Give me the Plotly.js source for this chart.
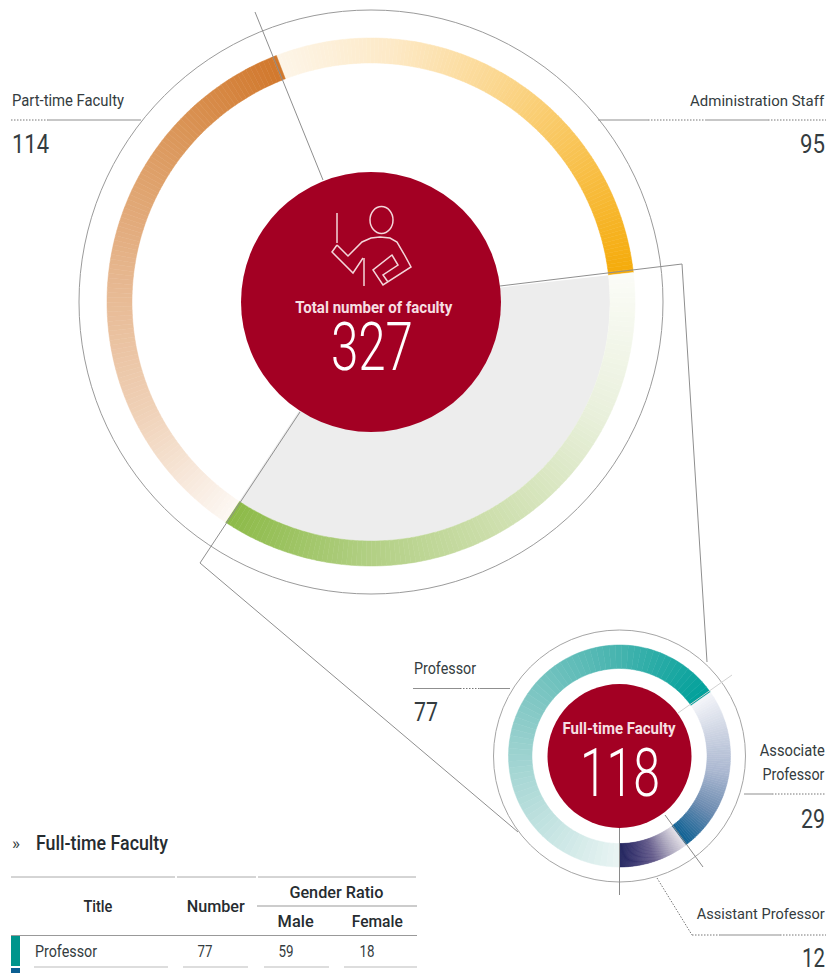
<!DOCTYPE html>
<html>
<head>
<meta charset="utf-8">
<script src="https://cdn.plot.ly/plotly-3.0.1.min.js"></script>
<style>html,body{margin:0;padding:0;background:#fff}#chart{width:831px;height:973px}.pielayer{filter:blur(0.5px)}</style>
</head>
<body>
<div id="chart"></div>
<script>
// ---- data ----
var totalLabel = 'Total number of faculty';
var totalValue = 327;
var mainCategories = ['Administration Staff', 'Full-time Faculty', 'Part-time Faculty'];
var mainValues = [95, 118, 114];
var subLabel = 'Full-time Faculty';
var subTotal = 118;
var subCategories = ['Professor', 'Associate Professor', 'Assistant Professor'];
var subValues = [77, 29, 12];
var tableHeaders = ['Title', 'Number', 'Gender Ratio', 'Male', 'Female'];
var tableRow = ['Professor', 77, 59, 18];

// ---- style ----
var W = 831, H = 973;
var FONT = 'Roboto,"Liberation Sans",sans-serif';
var INK = '#343c40', LINE = '#8f8f8f', RED = '#a30023', PALE = '#f3d6da', DOT = '1.5px,1.5px';
var mainStops = [
  ['#fdf5e8', '#fde9c6', '#fbd68c', '#f8c04a', '#f5ab0a'],
  ['#fbfcf7', '#e9f0dc', '#cfe0b0', '#b1cf83', '#8cba47'],
  ['#fdf8f3', '#efd0b6', '#e6b68e', '#dc9a5f', '#d1772b']
];
var subStops = [
  ['#e9f4f3', '#b8dedc', '#86c9c6', '#4ab5b0', '#00a09a'],
  ['#f4f5f9', '#ccd3e2', '#aab7d0', '#6c8bb0', '#0b5f92'],
  ['#e3dfe6', '#a8a3bb', '#635a8a', '#3a3670', '#1c1f5a']
];
function px(x) { return x / W; }
function py(y) { return 1 - y / H; }
function rgb(h) { return [1, 3, 5].map(function (i) { return parseInt(h.substr(i, 2), 16); }); }
function mix(stops, t) {
  var s = t * (stops.length - 1), i = Math.min(Math.floor(s), stops.length - 2), f = s - i;
  var a = rgb(stops[i]), b = rgb(stops[i + 1]);
  return 'rgb(' + a.map(function (v, k) { return Math.round(v + (b[k] - v) * f); }).join(',') + ')';
}
// Each category is one arc, cut into small equal steps only so its colour can fade along the arc.
function gradientPie(values, names, stops, cx, cy, rOut, rIn, rotation, steps) {
  var vals = [], cols = [], labs = [];
  values.forEach(function (v, c) {
    for (var i = 0; i < steps; i++) {
      vals.push(v / steps); labs.push(names[c] + ' ' + i);
      cols.push(mix(stops[c], (i + 0.5) / steps));
    }
  });
  return {
    type: 'pie', values: vals, labels: labs, sort: false, direction: 'clockwise', rotation: rotation,
    hole: rIn / rOut, textinfo: 'none', hoverinfo: 'skip', showlegend: false,
    marker: { colors: cols, line: { color: cols, width: 0.5 } },
    domain: { x: [px(cx - rOut), px(cx + rOut)], y: [py(cy + rOut), py(cy - rOut)] }
  };
}
var C = { x: 371, y: 302, outer: 292, rOut: 264, rIn: 239, red: 130 };
var S = { x: 619.5, y: 756, outer: 126, rOut: 111, rIn: 87.5, red: 72 };
var mainRot = -21, subRot = 180;

var greySector = {
  type: 'pie', values: mainValues, labels: mainCategories, sort: false, direction: 'clockwise',
  rotation: mainRot, textinfo: 'none', hoverinfo: 'skip', showlegend: false,
  marker: { colors: ['rgba(0,0,0,0)', '#ededed', 'rgba(0,0,0,0)'], line: { width: 0 } },
  domain: { x: [px(C.x - C.rIn), px(C.x + C.rIn)], y: [py(C.y + C.rIn), py(C.y - C.rIn)] }
};
var traces = [
  greySector,
  gradientPie(mainValues, mainCategories, mainStops, C.x, C.y, C.rOut, C.rIn, mainRot, 120),
  gradientPie(subValues, subCategories, subStops, S.x, S.y, S.rOut, S.rIn, subRot, 70)
];

function seg(x0, y0, x1, y1, color, dash, width) {
  return { type: 'line', xref: 'paper', yref: 'paper', layer: 'above', x0: px(x0), y0: py(y0), x1: px(x1), y1: py(y1),
    line: { color: color || LINE, width: width || 1, dash: dash || 'solid' } };
}
function ell(cx, cy, rx, ry, fill, stroke, width) {
  return { type: 'circle', xref: 'paper', yref: 'paper', layer: 'above', x0: px(cx - rx), x1: px(cx + rx), y0: py(cy + ry), y1: py(cy - ry),
    fillcolor: fill || 'rgba(0,0,0,0)', line: { color: stroke || RED, width: stroke ? (width || 1) : 0 } };
}
function poly(points, color, width) {
  var d = points.map(function (p, i) { return (i ? 'L' : 'M') + px(p[0]) + ',' + py(p[1]); }).join(' ');
  return { type: 'path', xref: 'paper', yref: 'paper', layer: 'above', path: d, line: { color: color || PALE, width: width || 1.5 } };
}
var shapes = [
  ell(C.x, C.y, C.outer, C.outer, null, '#9b9b9b'),
  ell(S.x, S.y, S.outer, S.outer, null, '#a5a5a5'),
  // spokes and zoom connector
  seg(255, 12, 323, 180),
  poly([[500, 286], [682, 264], [707, 662]], LINE, 1),
  poly([[300, 412], [200, 563], [518, 832]], LINE, 1),
  ell(C.x, C.y, C.red, C.red, RED),
  seg(678, 713, 732, 675, '#d2d2d2'),
  seg(665, 815, 703, 867, '#8a8a8a'),
  seg(619.5, 826, 619.5, 895, '#8a8a8a'),
  ell(S.x, S.y, S.red, S.red, RED),
  // label rules
  seg(11, 120, 48, 120, '#777', DOT), seg(48, 120, 141, 120),
  seg(598, 120, 648, 120), seg(648, 120, 705, 120, '#777', DOT), seg(705, 120, 768, 120), seg(768, 120, 826, 120, '#777', DOT),
  seg(413, 688.5, 460, 688.5), seg(460, 688.5, 480, 688.5, '#777', DOT), seg(480, 688.5, 510, 688.5),
  seg(744, 794, 772, 794), seg(772, 794, 826, 794, '#777', DOT),
  seg(657, 878, 692, 935, '#777', DOT), seg(692, 935, 720, 935, '#777', DOT), seg(720, 935, 780, 935), seg(780, 935, 826, 935, '#777', DOT),
  // table rules
  seg(11, 877, 175, 877, '#aaa'), seg(177, 877, 256, 877, '#aaa'), seg(258, 877, 416, 877, '#aaa'),
  seg(257, 906, 417, 906, '#999'),
  seg(11, 935.5, 417, 935.5, '#999'),
  seg(34, 967, 168, 967, '#bbb'), seg(183, 967, 248, 967, '#bbb'), seg(264, 967, 329, 967, '#bbb'), seg(344, 967, 417, 967, '#bbb'),
  { type: 'rect', xref: 'paper', yref: 'paper', layer: 'above', x0: px(11), x1: px(20), y0: py(966), y1: py(936), fillcolor: '#00958c', line: { width: 0 } },
  { type: 'rect', xref: 'paper', yref: 'paper', layer: 'above', x0: px(11), x1: px(20), y0: py(973), y1: py(968), fillcolor: '#0b5f92', line: { width: 0 } },
  // presenter icon
  seg(337, 213, 337, 243, PALE, null, 1.5),
  ell(381.5, 220, 11.5, 13.5, null, PALE, 1.5),
  poly([[337, 245], [332, 252], [353, 273], [363, 258]]),
  poly([[364, 258], [364, 286]]),
  poly([[337, 245], [348, 256], [362, 242], [371, 238], [380, 237], [390, 238], [397, 242], [404, 254], [411, 267], [383, 285], [373, 270], [392, 255], [398, 265], [383, 275], [388, 282]])
];

var fitWidths = [];
function txt(t, x, y, size, anchor, width, color, weight) {
  fitWidths.push(width);
  return { text: t, xref: 'paper', yref: 'paper', x: px(x), y: py(y), xanchor: anchor, align: anchor, yanchor: 'middle',
    showarrow: false, borderpad: 0, font: { family: FONT, size: size, color: color || INK, weight: weight || 400 } };
}
var HEAD = '#262c30';
var annotations = [
  txt(mainCategories[2], 11, 101, 16, 'left', 112), txt(String(mainValues[2]), 11, 144, 25, 'left', 37),
  txt(mainCategories[0], 826, 101, 15, 'right', 134), txt(String(mainValues[0]), 826, 144, 25, 'right', 25),
  txt(totalLabel, 373.5, 307, 17, 'center', 157, '#f6dfe2', 700),
  txt(String(totalValue), 372, 347, 66, 'center', 82, '#ffffff', 300),
  txt(subLabel, 619.5, 728, 17, 'center', 113, '#f6dfe2', 700),
  txt(String(subTotal), 620, 773, 66, 'center', 80, '#ffffff', 300),
  txt(subCategories[0], 413, 668, 16, 'left', 62), txt(String(subValues[0]), 413, 712, 25, 'left', 24),
  txt('Associate', 826, 750, 16, 'right', 65), txt('Professor', 826, 774, 16, 'right', 62), txt(String(subValues[1]), 826, 819, 25, 'right', 24),
  txt(subCategories[2], 826, 914, 15, 'right', 128), txt(String(subValues[2]), 826, 958, 25, 'right', 23),
  txt('»', 11, 843, 16, 'left', 8), txt('Full-time Faculty', 35, 843, 20, 'left', 132, HEAD, 500),
  txt(tableHeaders[0], 97.5, 906, 16, 'center', 29, HEAD, 500),
  txt(tableHeaders[1], 216, 906, 16, 'center', 58, HEAD, 500),
  txt(tableHeaders[2], 336, 892, 16, 'center', 94, HEAD, 500),
  txt(tableHeaders[3], 296, 921, 16, 'center', 36, HEAD, 500),
  txt(tableHeaders[4], 377.5, 921, 16, 'center', 51, HEAD, 500),
  txt(tableRow[0], 34, 951, 16, 'left', 62),
  txt(String(tableRow[1]), 204.5, 951, 16, 'center', 15),
  txt(String(tableRow[2]), 286, 951, 16, 'center', 15),
  txt(String(tableRow[3]), 366.5, 951, 16, 'center', 15)
];

Plotly.newPlot('chart', traces, {
  width: W, height: H, margin: { l: 0, r: 0, t: 0, b: 0 }, paper_bgcolor: '#fff', plot_bgcolor: '#fff',
  showlegend: false, shapes: shapes, annotations: annotations
}, { displayModeBar: false, staticPlot: true }).then(function (gd) {
  // the source face is condensed: narrow each real text to its measured width
  gd.querySelectorAll('.annotation-text').forEach(function (el, i) {
    el.setAttribute('textLength', fitWidths[i]);
    el.setAttribute('lengthAdjust', 'spacingAndGlyphs');
  });
});
</script>
</body>
</html>
